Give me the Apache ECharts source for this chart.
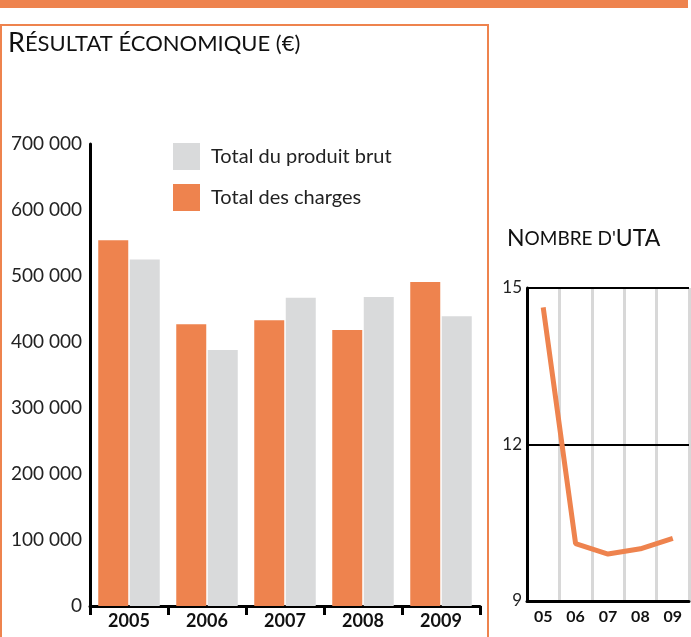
<!DOCTYPE html>
<html>
<head>
<meta charset="utf-8">
<script src="https://cdn.jsdelivr.net/npm/echarts@6/dist/echarts.min.js"></script>
<style>
  html, body { margin: 0; padding: 0; background: #fff; }
  #main { width: 691px; height: 637px; }
</style>
</head>
<body>
<div id="main"></div>
<script>
// données
var years = ['2005', '2006', '2007', '2008', '2009'];
var charges = [554000, 427000, 433000, 418000, 491000];
var produitBrut = [525000, 388000, 467000, 468000, 439000];

var utaYears = ['05', '06', '07', '08', '09'];
var uta = [14.63, 10.1, 9.9, 10.0, 10.2];

var ORANGE = '#EE834E';
var GRAY = '#D9DADB';
var FONT = 'Lato';

var myChart = echarts.init(document.getElementById('main'));

var option = {
    backgroundColor: '#fff',
    textStyle: { fontFamily: FONT },
    animation: false,
    graphic: [
        // bandeau du haut
        { type: 'rect', shape: { x: 0, y: 0, width: 688, height: 8 }, style: { fill: ORANGE } },
        // cadre du graphique principal
        { type: 'rect', shape: { x: 1, y: 25, width: 487, height: 640 },
          style: { fill: null, stroke: ORANGE, lineWidth: 2 } }
    ],
    title: [
        {
            left: 8, top: 30, padding: 0,
            text: '{b|R}{s|ÉSULTAT ÉCONOMIQUE (€)}',
            textStyle: {
                rich: {
                    b: { fontSize: 27, color: '#111', fontFamily: FONT, fontWeight: 'normal' },
                    s: { fontSize: 22, color: '#111', fontFamily: FONT, fontWeight: 'normal' }
                }
            }
        },
        {
            left: 507, top: 227, padding: 0,
            text: '{b|N}{s|OMBRE D\'}{b|UTA}',
            textStyle: {
                rich: {
                    b: { fontSize: 23, color: '#111', fontFamily: FONT, fontWeight: 'normal' },
                    s: { fontSize: 19, color: '#111', fontFamily: FONT, fontWeight: 'normal' }
                }
            }
        }
    ],
    legend: {
        data: ['Total du produit brut', 'Total des charges'],
        orient: 'vertical',
        left: 173, top: 143, padding: 0,
        itemWidth: 27, itemHeight: 27, itemGap: 14,
        icon: 'rect',
        textStyle: { fontSize: 20, color: '#222', fontFamily: FONT, padding: [0, 0, 0, 6] }
    },
    grid: [
        { left: 90, top: 144, width: 390, height: 462 },
        { left: 527, top: 288, width: 162, height: 313 }
    ],
    xAxis: [
        {
            gridIndex: 0, type: 'category', data: years,
            axisLine: { lineStyle: { color: '#000', width: 3 } },
            axisTick: { show: true, length: 9, lineStyle: { color: '#000', width: 3 } },
            axisLabel: { fontSize: 18, fontWeight: 'bold', color: '#111', margin: 6 }
        },
        {
            gridIndex: 1, type: 'category', data: utaYears, z: 0,
            axisLine: { lineStyle: { color: '#000', width: 3 } },
            axisTick: { show: false },
            splitLine: { show: true, lineStyle: { color: '#D8D8D8', width: 3 } },
            axisLabel: { fontSize: 16, fontWeight: 'bold', color: '#111', margin: 8 }
        }
    ],
    yAxis: [
        {
            gridIndex: 0, type: 'value', min: 0, max: 700000, interval: 100000,
            axisLine: { show: true, lineStyle: { color: '#000', width: 3 } },
            axisTick: { show: false },
            splitLine: { show: false },
            axisLabel: {
                fontSize: 19, color: '#222', margin: 8,
                formatter: function (v) { return v === 0 ? '0' : (v / 1000) + ' 000'; }
            }
        },
        {
            gridIndex: 1, type: 'value', min: 9, max: 15, interval: 3, z: 3,
            axisLine: { show: true, lineStyle: { color: '#000', width: 3 } },
            axisTick: { show: false },
            splitLine: { show: true, lineStyle: { color: '#000', width: 2 } },
            axisLabel: { fontSize: 17, color: '#222', margin: 5 }
        }
    ],
    series: [
        {
            name: 'Total des charges', type: 'bar',
            xAxisIndex: 0, yAxisIndex: 0,
            data: charges,
            barWidth: 30, barGap: '5%',
            itemStyle: { color: ORANGE }
        },
        {
            name: 'Total du produit brut', type: 'bar',
            xAxisIndex: 0, yAxisIndex: 0,
            data: produitBrut,
            barWidth: 30,
            itemStyle: { color: GRAY }
        },
        {
            name: 'UTA', type: 'line',
            xAxisIndex: 1, yAxisIndex: 1,
            data: uta,
            showSymbol: false, symbol: 'none',
            lineStyle: { color: ORANGE, width: 5 },
            itemStyle: { color: ORANGE }
        }
    ]
};

myChart.setOption(option);
</script>
</body>
</html>
